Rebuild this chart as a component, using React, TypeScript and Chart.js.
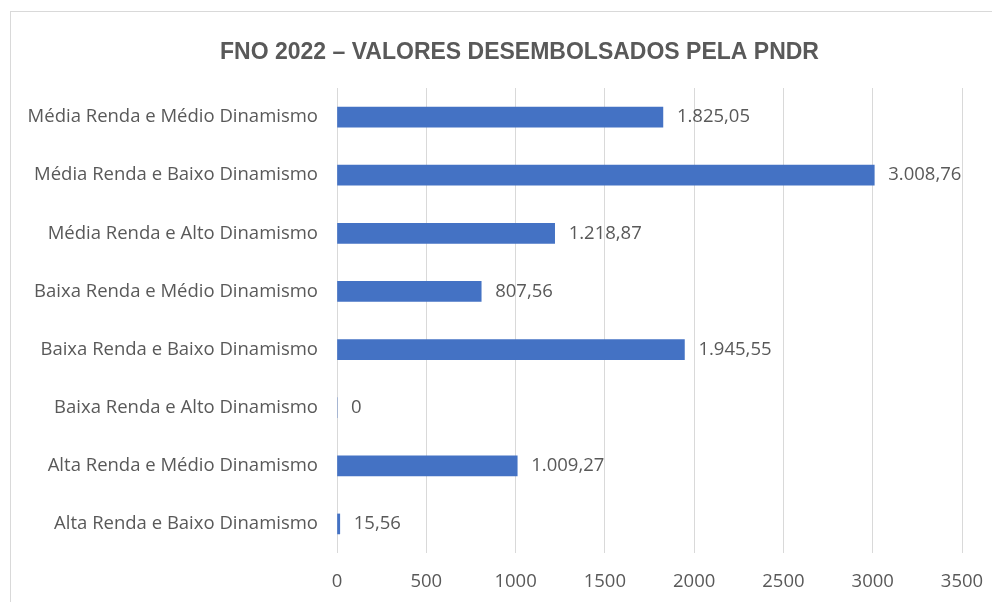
import React, { useEffect, useRef } from "react";
import { Chart, registerables } from "chart.js";

Chart.register(...registerables);

const titleText = "FNO 2022 – VALORES DESEMBOLSADOS PELA PNDR";
const categories = [
  "Média Renda e Médio Dinamismo",
  "Média Renda e Baixo Dinamismo",
  "Média Renda e Alto Dinamismo",
  "Baixa Renda e Médio Dinamismo",
  "Baixa Renda e Baixo Dinamismo",
  "Baixa Renda e Alto Dinamismo",
  "Alta Renda e Médio Dinamismo",
  "Alta Renda e Baixo Dinamismo",
];
const values = [1825.05, 3008.76, 1218.87, 807.56, 1945.55, 0, 1009.27, 15.56];
const axisMin = 0;
const axisMax = 3500;
const axisStep = 500;

const TEXT = "#595959";
const BAR = "#4472C4";
const GRID = "#D9D9D9";
const FONT = '"Open Sans"';
const FONT_SIZE = 18.5;

function fmt(v: number): string {
  if (v === 0) return "0";
  const [i, d] = v.toFixed(2).split(".");
  const int = i.replace(/\B(?=(\d{3})+(?!\d))/g, ".");
  return int + "," + d;
}

const labelPlugin = {
  id: "valueLabels",
  afterDatasetsDraw(chart: any) {
    const ctx = chart.ctx;
    const meta = chart.getDatasetMeta(0);
    ctx.save();
    ctx.font = `${FONT_SIZE}px ${FONT}`;
    ctx.fillStyle = TEXT;
    ctx.textAlign = "left";
    ctx.textBaseline = "middle";
    meta.data.forEach((el: any, i: number) => {
      ctx.fillText(fmt(values[i]), el.x + 14, el.y);
    });
    ctx.restore();
  },
};

const titlePlugin = {
  id: "customTitle",
  afterDraw(chart: any) {
    const ctx = chart.ctx;
    ctx.save();
    ctx.font = `bold 23px "Liberation Sans", Arial, sans-serif`;
    ctx.fillStyle = TEXT;
    ctx.textAlign = "center";
    ctx.textBaseline = "alphabetic";
    ctx.fillText(titleText, 508.5, 47);
    ctx.restore();
  },
};

export default function App() {
  const ref = useRef<HTMLCanvasElement | null>(null);
  useEffect(() => {
    if (!ref.current) return;
    const chart = new Chart(ref.current, {
      type: "bar",
      data: {
        labels: categories,
        datasets: [
          {
            data: values,
            backgroundColor: BAR,
            borderWidth: 0,
            barThickness: 20,
          },
        ],
      },
      options: {
        indexAxis: "y",
        animation: false,
        responsive: false,
        maintainAspectRatio: false,
        layout: { padding: { top: 76, right: 69, left: 0, bottom: 0 } },
        plugins: {
          legend: { display: false },
          title: { display: false },
          tooltip: { enabled: false },
        },
        scales: {
          x: {
            min: axisMin,
            max: axisMax,
            ticks: {
              stepSize: axisStep,
              color: TEXT,
              font: { family: FONT, size: FONT_SIZE },
              padding: 18,
              maxRotation: 0,
              callback: (v: any) => String(v),
            },
            grid: { color: GRID, lineWidth: 1, drawTicks: false },
            border: { display: false },
            afterFit(scale: any) {
              scale.height = 59;
            },
          },
          y: {
            ticks: {
              color: TEXT,
              font: { family: FONT, size: FONT_SIZE },
              padding: 19,
            },
            grid: { display: false, drawTicks: false },
            border: { display: false },
            afterFit(scale: any) {
              scale.width = 326;
            },
          },
        },
      },
      plugins: [labelPlugin, titlePlugin],
    });
    return () => chart.destroy();
  }, []);

  return (
    <div
      style={{
        position: "fixed",
        left: 0,
        top: 0,
        width: 992,
        height: 602,
        overflow: "hidden",
        background: "#fff",
      }}
    >
      <div
        style={{
          position: "absolute",
          left: 10,
          top: 11,
          width: 1020,
          height: 600,
          border: "1px solid #D9D9D9",
          background: "#fff",
        }}
      >
        <canvas ref={ref} width={1020} height={600} style={{ display: "block" }} />
      </div>
    </div>
  );
}
